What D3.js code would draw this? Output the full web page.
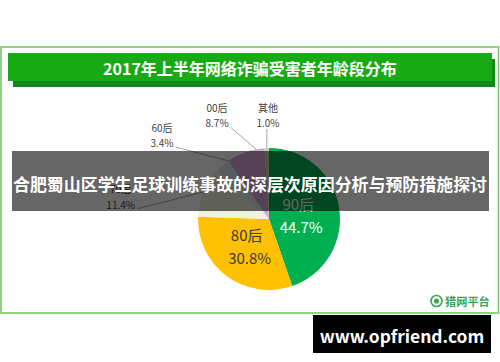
<!DOCTYPE html>
<html>
<head>
<meta charset="utf-8">
<script src="https://cdn.jsdelivr.net/npm/d3@7"></script>
<style>
  html, body { margin: 0; padding: 0; background: #ffffff; }
  svg { display: block; }
  text { font-family: "Noto Sans CJK SC", "Noto Sans", sans-serif; }
</style>
</head>
<body>
<svg id="chart" width="500" height="362"></svg>
<script>
// ---- data ----
const chartTitle = "2017年上半年网络诈骗受害者年龄段分布";
const overlayTitle = "合肥蜀山区学生足球训练事故的深层次原因分析与预防措施探讨";
const categories = ["90后", "80后", "70后", "60后", "00后", "其他"];
const values = [44.7, 30.8, 11.4, 3.4, 8.7, 1.0];
const sliceColors = ["#00B050", "#FFC000", "#EEF3DF", "#DCE6F2", "#D6A3D8", "#C4D79B"];
const insideLabels = ["90后", "80后"];
const sourceText = "猎网平台";
const siteText = "www.opfriend.com";

// ---- layout (styling, not data) ----
const W = 500, H = 362;
const cx = 269, cy = 219, R = 71;
// polar placement of outside labels: [angle deg clockwise from top, distance px]
const outsideLabelPolar = { "70后": [278.5, 150], "60后": [308.1, 136], "00后": [333.4, 116], "其他": [359.4, 104] };
// where, within its slice (0..1), each leader line meets the rim
const leaderFrac = { "70后": 0.5, "60后": 1.0, "00后": 0.78, "其他": 0.5 };

const svg = d3.select("#chart");

// frame
svg.append("rect").attr("x", 1).attr("y", 47).attr("width", 497.5).attr("height", 266)
  .attr("fill", "#ffffff").attr("stroke", "#74c964").attr("stroke-width", 1.6);

// title banner with shadow
svg.append("rect").attr("x", 13).attr("y", 59).attr("width", 482).attr("height", 28).attr("fill", "#16861a");
svg.append("rect").attr("x", 8).attr("y", 53).attr("width", 484).attr("height", 28).attr("fill", "#17aa14");
svg.append("text").attr("x", 250).attr("y", 67.5).attr("text-anchor", "middle")
  .attr("dominant-baseline", "central").attr("fill", "#ffffff")
  .attr("font-size", 16).attr("font-weight", "bold").text(chartTitle);

// pie
const pieData = categories.map((c, i) => ({ cat: c, value: values[i], color: sliceColors[i] }));
const pie = d3.pie().value(d => d.value).sort(null).startAngle(0).endAngle(2 * Math.PI);
const arcs = pie(pieData);
const arc = d3.arc().innerRadius(0).outerRadius(R);
const g = svg.append("g").attr("transform", `translate(${cx},${cy})`);
g.selectAll("path.slice").data(arcs).join("path")
  .attr("class", "slice").attr("d", arc).attr("fill", d => d.data.color);

// inside labels
const labelArc = d3.arc().innerRadius(R * 0.46).outerRadius(R * 0.46);
arcs.filter(a => insideLabels.includes(a.data.cat)).forEach(a => {
  const [x, y] = labelArc.centroid(a);
  const col = a.data.cat === "90后" ? "#ffffff" : "#3a3a3a";
  const t = g.append("text").attr("text-anchor", "middle").attr("fill", col).attr("font-size", 15);
  t.append("tspan").attr("x", x - 3).attr("y", y - 4).text(a.data.cat);
  t.append("tspan").attr("x", x).attr("y", y + 19).text(a.value.toFixed(1) + "%");
});

// outside labels with leader lines
const rad = deg => deg * Math.PI / 180;
arcs.filter(a => outsideLabelPolar[a.data.cat]).forEach(a => {
  const [ang, dist] = outsideLabelPolar[a.data.cat];
  const lx = dist * Math.sin(rad(ang)), ly = -dist * Math.cos(rad(ang));
  const t = g.append("text").attr("text-anchor", "middle").attr("fill", "#404040").attr("font-size", 10);
  t.append("tspan").attr("x", lx).attr("y", ly - 3.5).text(a.data.cat);
  const pct = t.append("tspan").attr("x", lx).attr("y", ly + 12).text(a.value.toFixed(1) + "%");
  const f = leaderFrac[a.data.cat];
  const ea = a.startAngle + (a.endAngle - a.startAngle) * f;
  const ex = R * Math.sin(ea), ey = -R * Math.cos(ea);
  let sx, sy;
  if (a.data.cat === "其他") { sx = lx - 1; sy = ly + 14; }
  else { const w = pct.node().getComputedTextLength(); sx = lx + w / 2 + 2; sy = ly + 12; }
  g.append("line").attr("x1", sx).attr("y1", sy).attr("x2", ex).attr("y2", ey)
    .attr("stroke", "#a6a6a6").attr("stroke-width", 1);
});

// source logo
const logo = svg.append("g");
logo.append("circle").attr("cx", 436.5).attr("cy", 301).attr("r", 5.5)
  .attr("fill", "none").attr("stroke", "#3aa655").attr("stroke-width", 1.6);
logo.append("circle").attr("cx", 436.5).attr("cy", 301).attr("r", 2.6).attr("fill", "#3aa655");
logo.append("text").attr("x", 445).attr("y", 301).attr("dominant-baseline", "central")
  .attr("fill", "#3aa655").attr("font-size", 11.2).attr("font-weight", "bold").text(sourceText);

// dark overlay band
svg.append("rect").attr("x", 12).attr("y", 151).attr("width", 477).attr("height", 60)
  .attr("fill", "rgba(0,0,0,0.6)");
svg.append("text").attr("x", 250).attr("y", 183).attr("text-anchor", "middle")
  .attr("dominant-baseline", "central").attr("fill", "#ffffff")
  .attr("font-size", 17.3).attr("font-weight", "bold")
  .attr("textLength", 474).attr("lengthAdjust", "spacingAndGlyphs").text(overlayTitle);

// site badge
svg.append("rect").attr("x", 313).attr("y", 315).attr("width", 178).attr("height", 38).attr("fill", "#000000");
svg.append("text").attr("x", 402).attr("y", 335).attr("text-anchor", "middle")
  .attr("dominant-baseline", "central").attr("fill", "#ffffff")
  .attr("font-family", "'Liberation Sans', Arial, sans-serif")
  .attr("font-size", 17.4).attr("font-weight", "bold").text(siteText);
</script>
</body>
</html>
